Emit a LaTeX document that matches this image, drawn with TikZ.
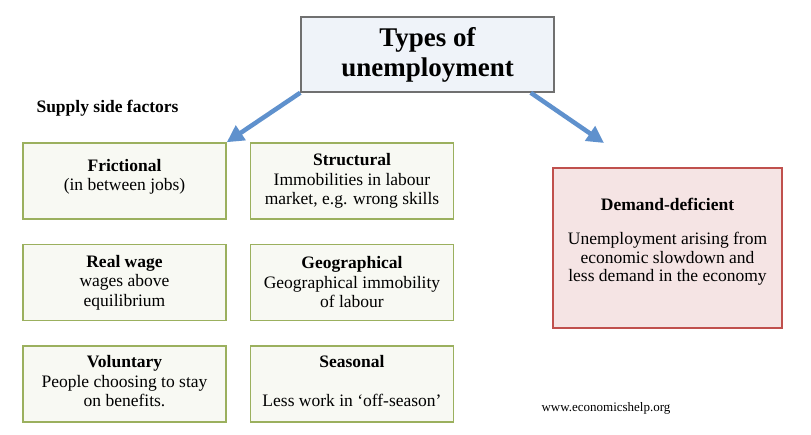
\documentclass[tikz,border=0pt]{standalone}
\usepackage{fontspec}
\setmainfont{Liberation Serif}
\usetikzlibrary{arrows.meta,positioning}
\definecolor{arrowblue}{RGB}{95,145,205}
\definecolor{titlefill}{RGB}{239,243,249}
\definecolor{titledraw}{RGB}{112,112,112}
\definecolor{greenfill}{RGB}{248,249,243}
\definecolor{greendraw}{RGB}{155,176,94}
\definecolor{redfill}{RGB}{245,228,228}
\definecolor{reddraw}{RGB}{192,80,77}

\begin{document}
\begin{tikzpicture}[x=1pt,y=-1pt,
  every node/.style={align=center,font=\fontsize{17.5}{19.5}\selectfont},
  titlebox/.style={rectangle,draw=titledraw,fill=titlefill,line width=1.5pt,minimum width=253pt,minimum height=75pt,font=\fontsize{27}{30}\selectfont\bfseries},
  typebox/.style={rectangle,draw=greendraw,fill=greenfill,line width=1.5pt,minimum width=203pt,minimum height=76pt,inner sep=2pt},
  demandbox/.style={rectangle,draw=reddraw,fill=redfill,line width=1.5pt,minimum width=229pt,minimum height=160pt,font=\fontsize{17.5}{18.5}\selectfont},
  bluearrow/.style={draw=arrowblue,line width=4.5pt,-{Triangle[length=17pt,width=17pt]}}]
\useasboundingbox (0,0) rectangle (811,435);

% Nodes
\node[titlebox] (title) at (427.5,54.5) {Types of\\unemployment};
\node[anchor=west,font=\fontsize{17.5}{19.5}\selectfont\bfseries] (supply) at (33,108) {Supply side factors};

\node[typebox] (frictional) at (124.5,181) {\textbf{Frictional}\\(in between jobs)\\[-7.5pt]};
\node[typebox,right=23pt of frictional] (structural) {\textbf{Structural}\\Immobilities in labour\\market, e.g. wrong skills};
\node[typebox,below=24pt of frictional] (realwage) {\textbf{Real wage}\\wages above\\equilibrium};
\node[typebox,right=23pt of realwage] (geographical) {\textbf{Geographical}\\Geographical immobility\\of labour};
\node[typebox,below=24pt of realwage] (voluntary) {\textbf{Voluntary}\\People choosing to stay\\on benefits.\\[-14pt]};
\node[typebox,right=23pt of voluntary] (seasonal) {\textbf{Seasonal}\\[19.5pt]Less work in `off-season'\\[-14pt]};

\node[demandbox] (demand) at (667.5,248) {\textbf{Demand-deficient}\\[15.5pt]Unemployment arising from\\economic slowdown and\\less demand in the economy\\[-2.5pt]};

\node[anchor=west,font=\fontsize{13}{15}\selectfont] (website) at (538,408) {www.economicshelp.org};

%arrows
\coordinate (demandtip) at (604,143);
\draw[bluearrow] (title.south west) -- (frictional.north east);
\draw[bluearrow] ([xshift=-24pt]title.south east) -- (demandtip);

\end{tikzpicture}
\end{document}
